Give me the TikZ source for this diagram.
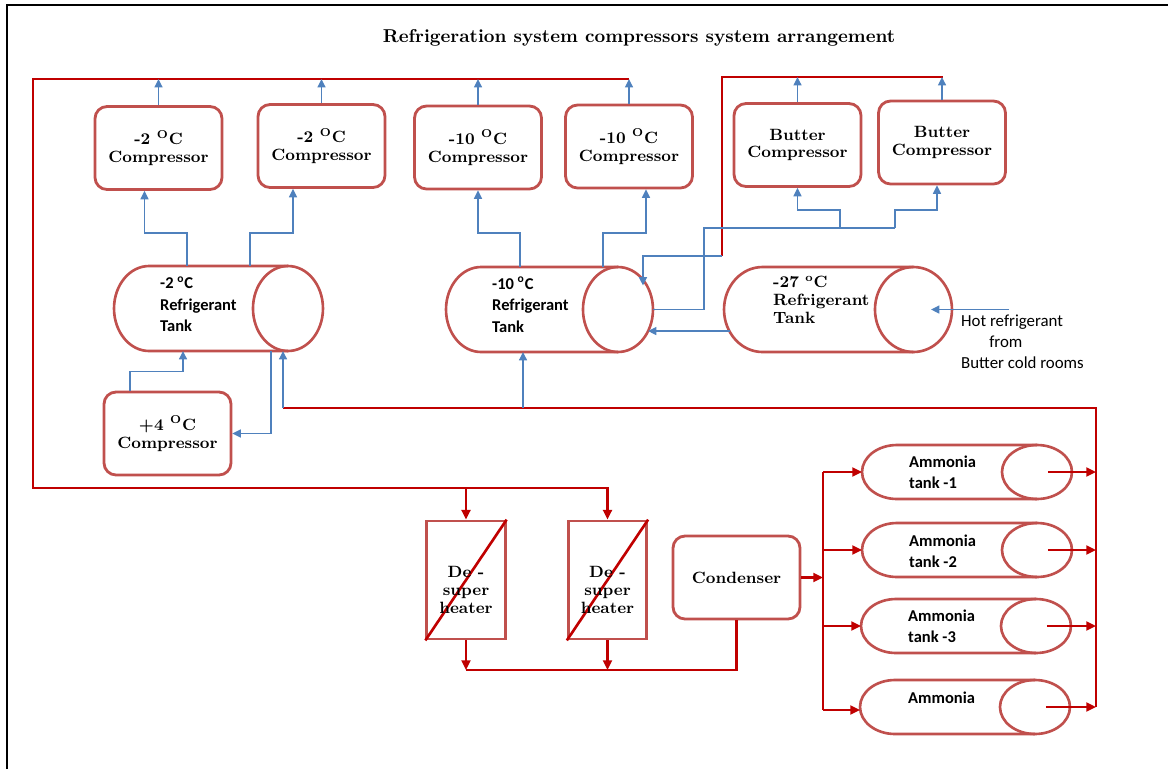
\documentclass[tikz,border=0pt]{standalone}
\usepackage{fontspec}
\newfontfamily\calibri{Carlito}
\usepackage{tikz}
\usetikzlibrary{arrows.meta,calc,positioning}
\definecolor{boxred}{HTML}{C0504D}
\definecolor{pipered}{HTML}{C00000}
\definecolor{pipeblue}{HTML}{4F81BD}

% tank outline round a body node: name, x radius, y radius
\newcommand{\drawtank}[3]{%
  \draw[TankLine] (#1.north east) -- (#1.north west)
    arc[start angle=90, end angle=270, x radius=#2, y radius=#3] -- (#1.south east);
  \draw[TankLine] (#1.east) ellipse[x radius=#2, y radius=#3];
  \coordinate (#1-l) at ($(#1.west)+(-#2,0)$);
  \coordinate (#1-r) at ($(#1.east)+(#2,0)$);
}

\begin{document}
\begin{tikzpicture}[x=0.02cm, y=-0.02cm]
  \tikzset{BoxStyle/.style = {draw=boxred, line width=1.6pt, rounded corners=0.24cm,
      minimum width=2.54cm, minimum height=1.66cm, align=center, inner sep=1pt,
      font=\bfseries\fontsize{9.3}{10.2}\selectfont},
    DesupStyle/.style = {draw=boxred, line width=1.6pt, minimum width=1.57cm, minimum height=2.36cm},
    TankStyle/.style = {inner sep=0pt, outer sep=0pt, minimum height=1.7cm},
    TankLine/.style = {draw=boxred, line width=1.5pt},
    TankText/.style = {anchor=west, align=left, font=\calibri\bfseries\fontsize{9.4}{12.2}\selectfont},
    SerifText/.style = {align=center, font=\bfseries\fontsize{9.3}{10.2}\selectfont},
    RedLine/.style = {draw=pipered, line width=1.5pt},
    RedFlow/.style = {RedLine, -{Triangle[length=5.5pt, width=5pt]}},
    BlueLine/.style = {draw=pipeblue, line width=0.75pt},
    BlueFlow/.style = {BlueLine, -{Triangle[length=4.8pt, width=4.6pt]}}}
  \useasboundingbox (0,0) rectangle (1171,769);
  \draw[line width=1.1pt] (7,769) -- (7,5) -- (1168,5);
  \node[font=\bfseries\fontsize{10.6}{12}\selectfont] (title) at (639,38)
    {Refrigeration system compressors system arrangement};

  % compressors
  \node[BoxStyle] (c1) at (158.5,148) {-2 \textsuperscript{O}C\\Compressor};
  \node[BoxStyle] (c2) at (321.5,146) {-2 \textsuperscript{O}C\\Compressor};
  \node[BoxStyle] (c3) at (478,147.5) {-10 \textsuperscript{O}C\\Compressor};
  \node[BoxStyle] (c4) at (629,146.5) {-10 \textsuperscript{O}C\\Compressor};
  \node[BoxStyle] (b1) at (797.5,145) {Butter\\Compressor};
  \node[BoxStyle] (b2) at (942,142.5) {Butter\\Compressor};
  \node[BoxStyle] (p4) at (167.5,433.5) {+4 \textsuperscript{O}C\\Compressor};
  \node[BoxStyle] (cond) at (736.5,577.5) {Condenser};

  % refrigerant tanks
  \node[TankStyle, minimum width=2.78cm] (t2) at (218.5,308.5) {};
  \drawtank{t2}{0.7cm}{0.85cm}
  \node[TankText] (t2lbl) at (154,304) {-2 \textsuperscript{o}C\\Refrigerant\\Tank};
  \node[TankStyle, minimum width=2.74cm] (t10) at (549.5,309.5) {};
  \drawtank{t10}{0.7cm}{0.85cm}
  \node[TankText] (t10lbl) at (486,304.5) {-10 \textsuperscript{o}C\\Refrigerant\\Tank};
  \node[TankStyle, minimum width=3.02cm] (t27) at (838,309.5) {};
  \drawtank{t27}{0.77cm}{0.85cm}
  \node[SerifText, anchor=west, align=left] (t27lbl) at (767,300) {-27 \textsuperscript{o}C\\Refrigerant\\Tank};
  \node[TankText, font=\calibri\fontsize{9.6}{12}\selectfont] (hotlbl) at (955,342)
    {Hot refrigerant\\\hspace{16pt}from\\Butter cold rooms};

  % ammonia tanks
  \node[TankStyle, minimum width=2.8cm, minimum height=1.08cm] (a1) at (967,472) {};
  \drawtank{a1}{0.7cm}{0.54cm}
  \node[TankText] (a1lbl) at (903,472.5) {Ammonia\\tank -1};
  \node[TankStyle, minimum width=2.8cm, minimum height=1.08cm] (a2) at (967,550) {};
  \drawtank{a2}{0.7cm}{0.54cm}
  \node[TankText] (a2lbl) at (903,551) {Ammonia\\tank -2};
  \node[TankStyle, minimum width=2.8cm, minimum height=1.08cm] (a3) at (966,626) {};
  \drawtank{a3}{0.7cm}{0.54cm}
  \node[TankText] (a3lbl) at (902,626.5) {Ammonia\\tank -3};
  \node[TankStyle, minimum width=2.8cm, minimum height=1.08cm] (a4) at (965,707) {};
  \drawtank{a4}{0.7cm}{0.54cm}
  \node[TankText] (a4lbl) at (902,698) {Ammonia};

  % desuperheaters
  \node[DesupStyle] (ds1) at (466,580) {};
  \draw[RedLine] (ds1.south west) -- (ds1.north east);
  \node[SerifText] (ds1lbl) at (466,590) {De -\\super\\heater};
  \node[DesupStyle] (ds2) at (607.5,580) {};
  \draw[RedLine] (ds2.south west) -- (ds2.north east);
  \node[SerifText] (ds2lbl) at (607.5,590) {De -\\super\\heater};

  \coordinate (loopne) at (629,79);
  \coordinate (loopsw) at (33,488);
  \coordinate (rb) at (722,256);
  \coordinate (rtr) at (943,77);
  \coordinate (ret) at (283,408);
  \coordinate (rvbot) at (1096,707);
  \coordinate (mtop) at (823,472);
  \coordinate (mbot) at (823,710);
  \coordinate (mix) at (466,670);
  \coordinate (busw) at (704,228);
  \coordinate (busm) at (840,228);
  \coordinate (buse) at (895,228);
  \coordinate (hot) at (1009,309.5);
  \coordinate (j10) at ($(t10.south)+(-26.5,0)$);

  % hot gas lines
  \draw[RedFlow] (loopne) -| (loopsw) -| (ds2.north);
  \draw[RedFlow] (ds1.north |- loopsw) -- (ds1.north);
  \draw[RedLine] (rb) |- (rtr);
  \draw[RedFlow] (ds1.south) -- (ds1.south |- mix);
  \draw[RedFlow] (ds2.south) -- (ds2.south |- mix);
  \draw[RedLine] (cond.south) |- (mix);
  \draw[RedFlow] (cond.east) -- (cond.east -| mtop);
  \draw[RedLine] (mtop) -- (mbot);
  \draw[RedFlow] (mtop |- a1-l) -- (a1-l);
  \draw[RedFlow] (mtop |- a2-l) -- (a2-l);
  \draw[RedFlow] (mtop |- a3-l) -- (a3-l);
  \draw[RedFlow] (mbot) -- (mbot -| a4-l);
  \draw[RedLine] (ret) -| (rvbot);
  \draw[RedFlow] ($(a1.east)+(11,0)$) -- (a1.east -| rvbot);
  \draw[RedFlow] ($(a2.east)+(11,0)$) -- (a2.east -| rvbot);
  \draw[RedFlow] ($(a3.east)+(11,0)$) -- (a3.east -| rvbot);
  \draw[RedFlow] ($(a4.east)+(11,0)$) -- (a4.east -| rvbot);

  % suction lines
  \draw[BlueFlow] (c1.north) -- (c1.north |- loopne);
  \draw[BlueFlow] (c2.north) -- (c2.north |- loopne);
  \draw[BlueFlow] (c3.north) -- (c3.north |- loopne);
  \draw[BlueFlow] (c4.north) -- (c4.north |- loopne);
  \draw[BlueFlow] (b1.north) -- (b1.north |- rtr);
  \draw[BlueFlow] (b2.north) -- (b2.north |- rtr);
  \draw[BlueFlow] ($(t2.north)+(-31.5,0)$) -- ++(0,-33) -| ($(c1.south)+(-14,0)$);
  \draw[BlueFlow] ($(t2.north)+(31.5,0)$) -- ++(0,-33) -| ($(c2.south)+(-28.5,0)$);
  \draw[BlueFlow] ($(t10.north)+(-29.5,0)$) -- ++(0,-34) -| (c3.south);
  \draw[BlueFlow] ($(t10.north)+(53.5,0)$) -- ++(0,-34) -| ($(c4.south)+(17,0)$);
  \draw[BlueFlow] ($(p4.north)+(-37.5,0)$) -- ++(0,-19) -| ($(t2.south)+(-35.5,0)$);
  \draw[BlueFlow] ($(t2.south)+(52.5,0)$) |- (p4.east);
  \draw[BlueFlow] (ret) -- (ret |- t2.south);
  \draw[BlueFlow] (j10 |- ret) -- (j10);
  \draw[BlueLine] (t10-r) -| (busw) -- (buse);
  \draw[BlueFlow] (busm) -- ++(0,-18) -| (b1.south);
  \draw[BlueFlow] (buse) -- ++(0,-18) -| ($(b2.south)+(-5,0)$);
  \draw[BlueFlow] (rb) -| ($(t10.east)+(25,-24)$);
  \draw[BlueFlow] ($(t27.west)+(-33,21.5)$) -- ($(t10.east)+(30,21.5)$);
  \draw[BlueFlow] (hot) -- ($(t27.east)+(17.5,0)$);
\end{tikzpicture}
\end{document}
